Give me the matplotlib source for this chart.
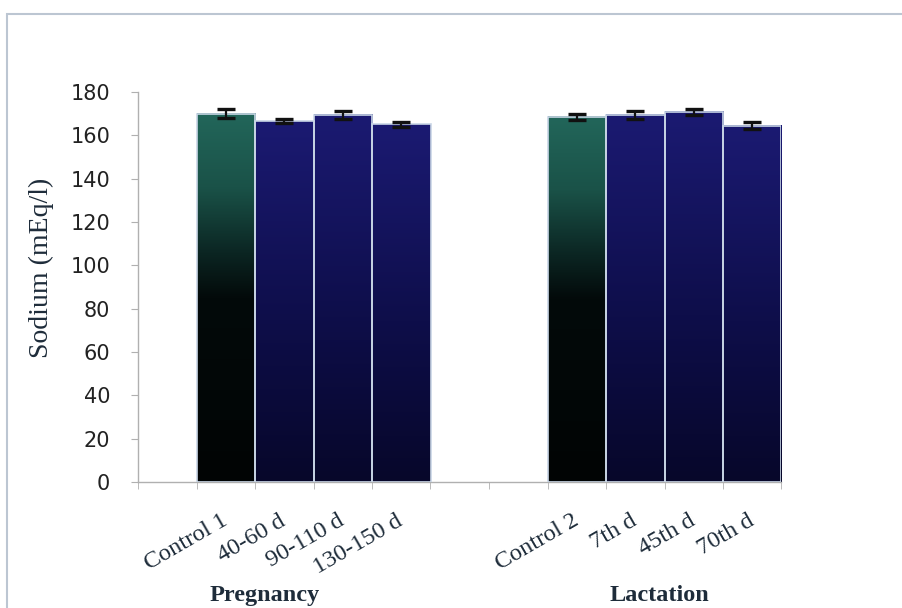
import matplotlib
matplotlib.use("Agg")
import matplotlib.pyplot as plt
from matplotlib.colors import LinearSegmentedColormap
from matplotlib.patches import Rectangle
import numpy as np

# ── Data ──────────────────────────────────────────────────
categories = ["", "Control 1", "40-60 d", "90-110 d", "130-150 d", "", "",
              "Control 2", "7th d", "45th d", "70th d"]
sodium     = [np.nan, 170.0, 166.5, 169.5, 165.0, np.nan, np.nan,
              168.5, 169.5, 170.8, 164.5]
sem        = [0, 2.0, 1.0, 1.8, 1.0, 0, 0, 1.5, 1.8, 1.5, 1.5]
is_control = [False, True, False, False, False, False, False,
              True, False, False, False]
groups     = ["Pregnancy", "Lactation"]
group_x    = [1.67, 8.42]

# ── Style ─────────────────────────────────────────────────
TEXT = "#1e2c3a"
green_cmap = LinearSegmentedColormap.from_list(
    "g", [(0.0, "#010404"), (0.5, "#030a0a"), (0.62, "#0b2522"),
          (0.8, "#1a5248"), (1.0, "#22665a")])
blue_cmap = LinearSegmentedColormap.from_list(
    "b", [(0.0, "#07072a"), (0.45, "#0e0e4a"), (1.0, "#1b1a72")])

fig = plt.figure(figsize=(9.02, 6.08), dpi=100)
ax = fig.add_axes([138/902, 1 - 482/608, 643.5/902, 390/608])

x = np.arange(len(categories))
bars = ax.bar(x, sodium, width=1.0, facecolor="none",
              edgecolor="#c9d6e6", linewidth=1.2, zorder=3)

grad = np.linspace(0, 1, 256).reshape(-1, 1)
for xi, h, ctrl in zip(x, sodium, is_control):
    if np.isnan(h):
        continue
    ax.imshow(grad, extent=[xi - 0.5, xi + 0.5, 0, h], origin="lower",
              aspect="auto", cmap=green_cmap if ctrl else blue_cmap, zorder=2)

ax.errorbar(x, sodium, yerr=sem, fmt="none", ecolor="#111111",
            elinewidth=1.6, capsize=6.5, capthick=2.4, zorder=4)

ax.set_xlim(-0.5, len(categories) - 0.5)
ax.set_ylim(0, 180)
ax.set_yticks(np.arange(0, 181, 20))

# category labels at bar centres, ticks at the boundaries
ax.set_xticks(x)
ax.set_xticklabels(categories, rotation=30, ha="right", va="center",
                   rotation_mode="anchor", family="Liberation Serif",
                   fontsize=17.5, color=TEXT)
ax.set_xticks(np.arange(-0.5, len(categories), 1), minor=True)
ax.tick_params(axis="x", which="major", length=0, pad=27)
ax.tick_params(axis="x", which="minor", length=5, color="#b0b0b0", direction="out")
ax.tick_params(axis="y", length=5, color="#b0b0b0", pad=15,
               labelsize=15, labelcolor="#222222")
for lab in ax.get_yticklabels():
    lab.set_family("DejaVu Sans")

for side in ["top", "right"]:
    ax.spines[side].set_visible(False)
for side in ["left", "bottom"]:
    ax.spines[side].set_color("#b0b0b0")
    ax.spines[side].set_linewidth(1.0)

ax.set_ylabel("Sodium (mEq/l)", family="Liberation Serif", fontsize=20, color=TEXT)
ax.yaxis.set_label_coords(-0.13, 0.55)

for g, gx in zip(groups, group_x):
    ax.text(gx, -0.292, g, transform=ax.get_xaxis_transform(), ha="center",
            va="center", family="Liberation Serif", fontsize=17.5,
            fontweight="bold", color=TEXT)

# outer chart frame
fig.patches.append(Rectangle((7/902, -0.1), 1.2, 1.1 - 14/608,
                             transform=fig.transFigure, fill=False,
                             edgecolor="#bcc6d2", linewidth=1.5))

plt.savefig("out.png", dpi=100)
plt.close()
